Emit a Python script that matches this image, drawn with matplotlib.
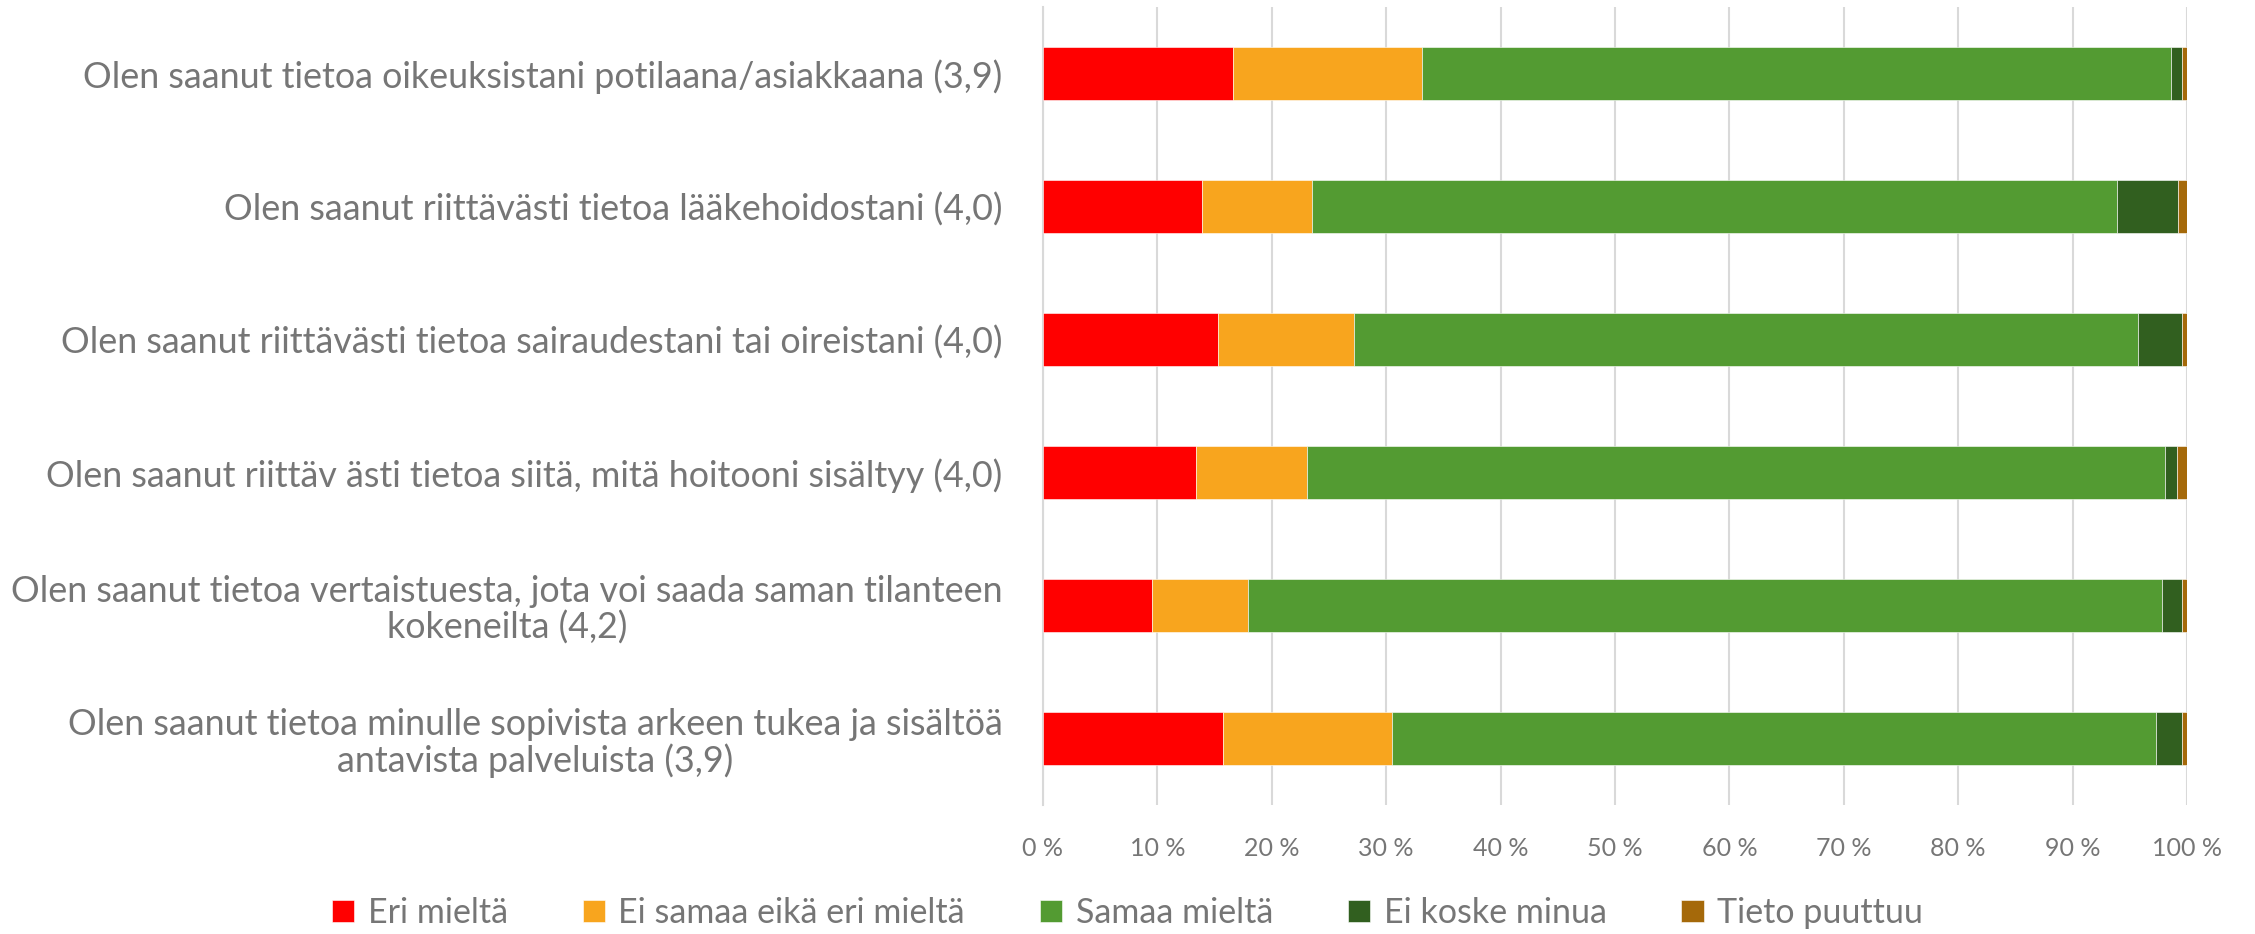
import matplotlib
matplotlib.use("Agg")
import matplotlib.pyplot as plt
import numpy as np

categories = [
    "Olen saanut tietoa oikeuksistani potilaana/asiakkaana (3,9)",
    "Olen saanut riittävästi tietoa lääkehoidostani (4,0)",
    "Olen saanut riittävästi tietoa sairaudestani tai oireistani (4,0)",
    "Olen saanut riittäv ästi tietoa siitä, mitä hoitooni sisältyy (4,0)",
    "Olen saanut tietoa vertaistuesta, jota voi saada saman tilanteen\nkokeneilta (4,2)",
    "Olen saanut tietoa minulle sopivista arkeen tukea ja sisältöä\nantavista palveluista (3,9)",
]
series_names = ["Eri mieltä", "Ei samaa eikä eri mieltä", "Samaa mieltä", "Ei koske minua", "Tieto puuttuu"]
eri_mielta = [16.6, 13.9, 15.3, 13.4, 9.55, 15.7]
ei_samaa_eika_eri = [16.5, 9.6, 11.9, 9.65, 8.35, 14.8]
samaa_mielta = [65.5, 70.35, 68.5, 75.0, 79.9, 66.8]
ei_koske_minua = [1.0, 5.4, 3.9, 1.05, 1.8, 2.3]
tieto_puuttuu = [0.4, 0.8, 0.4, 0.9, 0.4, 0.4]
colors = ["#FF0000", "#F8A51E", "#539B32", "#315F1F", "#A5690A"]
tick_labels = ["0 %", "10 %", "20 %", "30 %", "40 %", "50 %", "60 %", "70 %", "80 %", "90 %", "100 %"]

plt.rcParams['font.family'] = ['Lato', 'DejaVu Sans']
txt = "#767676"

fig = plt.figure(figsize=(22.55, 9.34), dpi=100)
ax = fig.add_axes([1043/2255, 1 - 805/934, (2187-1043)/2255, (805-7)/934])

data = [eri_mielta, ei_samaa_eika_eri, samaa_mielta, ei_koske_minua, tieto_puuttuu]
y = np.arange(len(categories))
left = np.zeros(len(categories))
for name, vals, c in zip(series_names, data, colors):
    vals = np.array(vals)
    ax.barh(y, vals, left=left, height=0.4, color=c, label=name, edgecolor="white", linewidth=0.4, zorder=3)
    left += vals

ax.set_xlim(0, 100)
ax.set_ylim(len(categories) - 0.5, -0.5)
ax.set_xticks(np.arange(0, 101, 10))
ax.set_xticklabels(tick_labels, fontsize=18, color=txt)
ax.set_yticks(y)
ax.set_yticklabels(categories, fontsize=25.8, color=txt, multialignment="center", linespacing=1.08)
ax.tick_params(axis="both", length=0)
ax.tick_params(axis="y", pad=29)
ax.tick_params(axis="x", pad=23)
ax.grid(axis="x", color="#D9D9D9", linewidth=1.5, zorder=0)
for s in ["top", "right", "bottom"]:
    ax.spines[s].set_visible(False)
ax.spines["left"].set_color("#D9D9D9")
ax.spines["left"].set_linewidth(1.5)

leg = fig.legend(loc="center", bbox_to_anchor=(0.5, 1 - 913/934), ncol=5, frameon=False,
                 fontsize=24.5, handlelength=0.65, handleheight=0.65, columnspacing=2.2, handletextpad=0.4)
for t in leg.get_texts():
    t.set_color(txt)

fig.savefig("out.png", dpi=100)
